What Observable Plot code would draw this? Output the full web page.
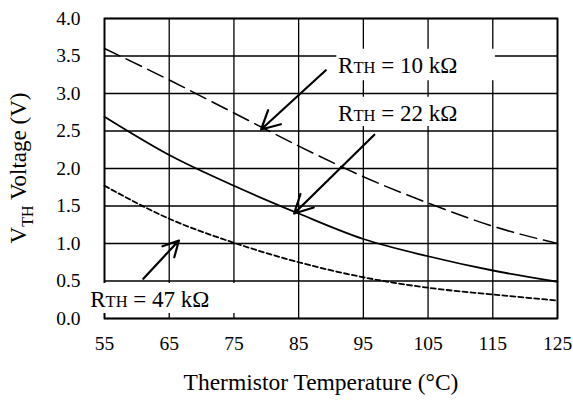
<!DOCTYPE html>
<html><head><meta charset="utf-8">
<script src="https://cdn.jsdelivr.net/npm/d3@7"></script>
<script src="https://cdn.jsdelivr.net/npm/@observablehq/plot@0.6"></script>
<style>html,body{margin:0;padding:0;background:#fff;overflow:hidden;}</style>
</head><body><div id="chart"></div>
<script>
// Data
const temps = [55, 65, 75, 85, 95, 105, 115, 125];
const v10k = [3.60, 3.18, 2.74, 2.30, 1.89, 1.54, 1.23, 1.00];
const v22k = [2.69, 2.18, 1.77, 1.40, 1.06, 0.83, 0.64, 0.49];
const v47k = [1.77, 1.33, 1.01, 0.75, 0.55, 0.41, 0.32, 0.24];
const xTicks = [55, 65, 75, 85, 95, 105, 115, 125];
const yTicks = [0, 0.5, 1, 1.5, 2, 2.5, 3, 3.5, 4];

// Annotations (data coordinates)
const labelValues = ["10 kΩ", "22 kΩ", "47 kΩ"];
const labelX = [91.1, 91.1, 52.8];
const labelY = [3.267, 2.64, 0.147];
const boxX1 = [90.9, 90.9, 52.5];
const boxX2 = [115.4, 111.7, 76.1];
const boxY1 = [3.17, 2.56, 0.067];
const boxY2 = [3.59, 2.95, 0.467];
const arrowX1 = [89.2, 96.7, 61.0];
const arrowY1 = [3.31, 2.45, 0.53];
const arrowX2 = [79.2, 84.3, 66.5];
const arrowY2 = [2.52, 1.40, 1.04];

const xTitle = "Thermistor Temperature (°C)";
const yTitleMain = "V", yTitleSub = "TH", yTitleRest = " Voltage (V)";

const series = [
  {name: "10k", values: v10k, dash: "17,7", width: 1.5},
  {name: "22k", values: v22k, dash: null, width: 1.8},
  {name: "47k", values: v47k, dash: "5,3", width: 1.8}
];
const lineRows = series.map(s => temps.map((t, i) => ({t, v: s.values[i]})));
const boxes = labelValues.map((_, i) => ({x1: boxX1[i], x2: boxX2[i], y1: boxY1[i], y2: boxY2[i]}));
const arrows = labelValues.map((_, i) => ({x1: arrowX1[i], y1: arrowY1[i], x2: arrowX2[i], y2: arrowY2[i]}));
const labels = labelValues.map((v, i) => ({x: labelX[i], y: labelY[i], text: "RTH = " + v}));

const W = 573, H = 408, mL = 104, mR = 16, mT = 18, mB = 90;

const marks = [
  Plot.ruleX(xTicks, {stroke: "black", strokeWidth: 1.3}),
  Plot.ruleY(yTicks, {stroke: "black", strokeWidth: 1.3}),
  Plot.frame({stroke: "black", strokeWidth: 1.8}),
  Plot.rect(boxes, {x1: "x1", x2: "x2", y1: "y1", y2: "y2", fill: "white"}),
  ...series.map((s, k) => Plot.line(lineRows[k], {
    x: "t", y: "v", curve: "monotone-x", stroke: "black",
    strokeWidth: s.width, strokeDasharray: s.dash || undefined
  })),
  Plot.arrow(arrows, {x1: "x1", y1: "y1", x2: "x2", y2: "y2", stroke: "black",
    strokeWidth: 2.2, headLength: 14, headAngle: 55}),
  Plot.text(labels, {x: "x", y: "y", text: "text", textAnchor: "start",
    lineAnchor: "bottom", fontSize: 23, fill: "black"})
];

const chart = Plot.plot({
  width: W, height: H,
  marginLeft: mL, marginRight: mR, marginTop: mT, marginBottom: mB,
  style: {fontFamily: "'Liberation Serif', 'Times New Roman', serif", fontSize: "19.5px", color: "black", background: "white"},
  x: {domain: [55, 125], ticks: xTicks, tickSize: 0, tickPadding: 18, label: null, tickFormat: d3.format("d")},
  y: {domain: [0, 4], ticks: yTicks, tickSize: 0, tickPadding: 24, label: null, tickFormat: d3.format(".1f")},
  marks
});

// Rich text for annotation labels: small "TH"
d3.select(chart).selectAll("text").each(function() {
  const t = this.textContent;
  if (t.startsWith("RTH")) {
    const sel = d3.select(this);
    sel.text(null);
    sel.append("tspan").text("R");
    sel.append("tspan").attr("font-size", 16.5).text("TH");
    sel.append("tspan").text(t.slice(3));
  }
});

const svg = d3.select(chart);
// x axis title
svg.append("text")
  .attr("x", 321).attr("y", 390)
  .attr("text-anchor", "middle").attr("font-size", 23.5).attr("fill", "black")
  .text(xTitle);
// y axis title with subscript
const yt = svg.append("text")
  .attr("transform", `translate(26,${mT + (H - mT - mB) / 2}) rotate(-90)`)
  .attr("text-anchor", "middle").attr("font-size", 23).attr("fill", "black");
yt.append("tspan").text(yTitleMain);
yt.append("tspan").attr("font-size", 16).attr("dy", 7).text(yTitleSub);
yt.append("tspan").attr("dy", -7).text(yTitleRest);

document.getElementById("chart").appendChild(chart);
</script>
</body></html>
